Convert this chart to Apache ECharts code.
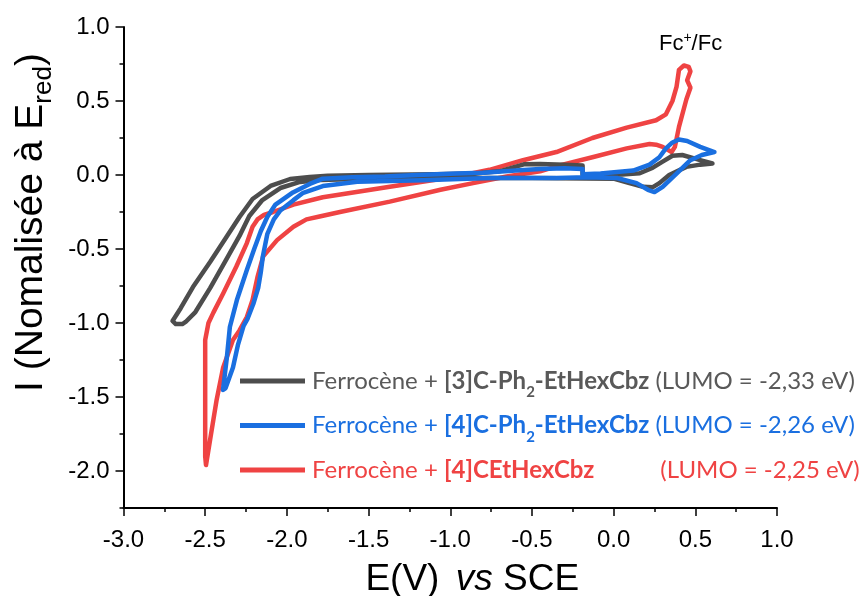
<!DOCTYPE html>
<html><head><meta charset="utf-8">
<script src="https://cdn.jsdelivr.net/npm/echarts@6/dist/echarts.min.js"></script>
<style>html,body{margin:0;padding:0;background:#fff}#c{width:861px;height:596px}</style>
</head><body><div id="c"></div>
<script>
// Tick values
const yLabelValues = [-2.0, -1.5, -1.0, -0.5, 0.0, 0.5, 1.0];

// Ferrocène + [3]C-Ph2-EtHexCbz (gray)
const grayE = [-0.19,-0.30,-0.45,-0.55,-0.62,-0.70,-0.85,-1.10,-1.50,-1.75,-1.86,-1.98,-2.10,-2.21,-2.29,-2.37,-2.47,-2.575,-2.65,-2.70,-2.68,-2.64,-2.62,-2.56,-2.47,-2.38,-2.29,-2.23,-2.15,-2.04,-1.92,-1.80,-1.50,-1.00,-0.50,0.00,0.08,0.18,0.24,0.28,0.34,0.445,0.53,0.605,0.53,0.42,0.36,0.30,0.24,0.16,0.05,-0.10,-0.19,-0.19];
const grayI = [0.065,0.07,0.075,0.072,0.05,0.025,0.01,0.005,0.0,-0.005,-0.014,-0.027,-0.074,-0.162,-0.284,-0.419,-0.588,-0.757,-0.90,-0.986,-1.007,-1.007,-0.993,-0.926,-0.764,-0.588,-0.412,-0.277,-0.169,-0.088,-0.047,-0.034,-0.025,-0.02,-0.02,-0.025,-0.05,-0.08,-0.082,-0.055,0.0,0.055,0.07,0.078,0.10,0.135,0.13,0.09,0.05,0.012,0.003,0.0,0.0,0.065];

// Ferrocène + [4]C-Ph2-EtHexCbz (blue)
const blueE = [-0.19,-0.30,-0.45,-0.60,-0.80,-0.96,-1.20,-1.40,-1.60,-1.78,-1.86,-1.963,-2.07,-2.12,-2.16,-2.20,-2.245,-2.306,-2.349,-2.367,-2.391,-2.375,-2.33,-2.30,-2.265,-2.24,-2.205,-2.175,-2.16,-2.147,-2.12,-2.08,-2.04,-1.96,-1.90,-1.78,-1.57,-1.17,-0.76,-0.35,-0.165,0.02,0.14,0.21,0.25,0.30,0.385,0.47,0.54,0.617,0.53,0.45,0.40,0.36,0.32,0.28,0.22,0.12,-0.08,-0.19,-0.19];
const blueI = [0.04,0.045,0.04,0.03,0.015,0.01,0.0,-0.01,-0.015,-0.025,-0.06,-0.118,-0.20,-0.284,-0.38,-0.50,-0.642,-0.845,-1.027,-1.23,-1.453,-1.44,-1.30,-1.15,-1.02,-0.97,-0.87,-0.76,-0.66,-0.55,-0.40,-0.30,-0.24,-0.17,-0.12,-0.075,-0.045,-0.035,-0.02,-0.02,-0.015,-0.02,-0.055,-0.10,-0.115,-0.08,0.01,0.10,0.135,0.155,0.19,0.23,0.24,0.22,0.18,0.12,0.07,0.03,0.01,0.005,0.04];

// Ferrocène + [4]CEtHexCbz (red)
const redE = [0.47,0.445,0.40,0.375,0.355,0.30,0.26,0.22,0.08,-0.13,-0.33,-0.45,-0.655,-0.86,-1.06,-1.37,-1.675,-1.80,-1.88,-1.96,-2.06,-2.145,-2.18,-2.21,-2.245,-2.29,-2.33,-2.39,-2.43,-2.47,-2.495,-2.50,-2.50,-2.50,-2.48,-2.45,-2.39,-2.31,-2.245,-2.21,-2.18,-2.14,-2.085,-1.96,-1.78,-1.37,-0.96,-0.76,-0.555,-0.35,-0.13,0.08,0.26,0.32,0.36,0.385,0.40,0.43,0.46,0.47,0.45,0.47];
const redI = [0.59,0.51,0.325,0.19,0.155,0.19,0.205,0.21,0.18,0.12,0.065,0.025,-0.01,-0.055,-0.10,-0.18,-0.25,-0.28,-0.30,-0.35,-0.44,-0.55,-0.69,-0.845,-0.96,-1.05,-1.115,-1.30,-1.52,-1.79,-1.96,-1.90,-1.40,-1.115,-1.0,-0.93,-0.80,-0.62,-0.46,-0.35,-0.30,-0.27,-0.25,-0.20,-0.15,-0.08,-0.01,0.035,0.10,0.155,0.25,0.32,0.37,0.41,0.50,0.595,0.71,0.74,0.73,0.70,0.64,0.59];

const nameG = 'Ferrocène + [3]C-Ph2-EtHexCbz';
const nameB = 'Ferrocène + [4]C-Ph2-EtHexCbz';
const nameR = 'Ferrocène + [4]CEtHexCbz';

const GRAY = '#4d4d4d', BLUE = '#1a6fe0', RED = '#ef4343';
const zip = (a, b) => a.map((v, i) => [v, b[i]]);

const legendText = {};
legendText[nameG] = '{g|Ferrocène + }{gb|[3]C-Ph}{gs|2}{gb|-EtHexCbz}{g| (LUMO = -2,33 eV)}';
legendText[nameB] = '{b|Ferrocène + }{bb|[4]C-Ph}{bs|2}{bb|-EtHexCbz}{b| (LUMO = -2,26 eV)}';
legendText[nameR] = '{r|Ferrocène + }{rb|[4]CEtHexCbz}{sp| }{r|(LUMO = -2,25 eV)}';

const LF = 'Lato';
function tok(color, bold) { return {color, fontFamily: LF, fontSize: 24, fontWeight: bold ? 'bold' : 'normal', lineHeight: 36}; }
function sub(color) { return {color, fontFamily: LF, fontSize: 15, fontWeight: 'bold', padding: [23, 0, 0, 0]}; }

const chart = echarts.init(document.getElementById('c'), null, {renderer: 'canvas'});
const axisLine = {show: true, onZero: false, lineStyle: {color: '#000', width: 2}};
const AF = 'Liberation Sans';

chart.setOption({
  animation: false,
  grid: {left: 123.5, right: 84, top: 27, bottom: 88, containLabel: false, outerBoundsMode: 'none'},
  xAxis: {
    type: 'value', min: -3, max: 1, interval: 0.5,
    axisLine,
    axisTick: {show: true, inside: false, length: 8, lineStyle: {color: '#000', width: 1.5}},
    minorTick: {show: true, splitNumber: 2, length: 4, lineStyle: {color: '#000', width: 1.5}},
    splitLine: {show: false},
    axisLabel: {margin: 20, fontSize: 24, fontFamily: AF, color: '#000', formatter: v => v.toFixed(1)},
    name: '{a|E(V) }{i|vs}{a| SCE}', nameLocation: 'middle', nameGap: 53,
    nameTextStyle: {padding: [0, 0, 0, 44], rich: {
      a: {fontSize: 37, fontFamily: AF, color: '#000'},
      i: {fontSize: 37, fontFamily: AF, color: '#000', fontStyle: 'italic', padding: [0, 0, 0, 6]}
    }}
  },
  yAxis: [{
    type: 'value', min: -2.25, max: 1, interval: 0.25,
    axisLine,
    axisTick: {show: true, inside: false, length: 4, lineStyle: {color: '#000', width: 1.5}},
    splitLine: {show: false},
    axisLabel: {margin: 14, fontSize: 24, fontFamily: AF, color: '#000', customValues: yLabelValues, formatter: v => v.toFixed(1)},
    name: '{a|I (Nomalisée à E}{s|red}{a|)}', nameLocation: 'middle', nameGap: 58,
    nameTextStyle: {padding: [0, 0, 0, 90], rich: {
      a: {fontSize: 39, fontFamily: AF, color: '#000'},
      s: {fontSize: 26, fontFamily: AF, color: '#000', padding: [26, 0, 0, 0]}
    }}
  }, {
    type: 'value', min: -2.25, max: 1, interval: 0.25, position: 'left', offset: 0,
    axisLine: {show: false, onZero: false},
    axisTick: {show: true, inside: false, length: 8, customValues: yLabelValues, lineStyle: {color: '#000', width: 1.5}},
    axisLabel: {show: false},
    splitLine: {show: false}
  }],
  legend: {
    orient: 'vertical', left: 235, top: 364, itemWidth: 65, itemHeight: 5, itemGap: 13.5, icon: 'rect',
    data: [nameG, nameB, nameR],
    formatter: n => legendText[n],
    selectedMode: false,
    textStyle: {padding: [0, 0, 0, 2], rich: {
      g: tok('#595959', false), gb: tok('#595959', true), gs: sub('#595959'),
      b: tok(BLUE, false), bb: tok(BLUE, true), bs: sub(BLUE),
      r: tok(RED, false), rb: tok(RED, true), sp: {fontSize: 24, fontFamily: LF, lineHeight: 36, width: 66}
    }}
  },
  graphic: [{
    type: 'text', left: 659, top: 31,
    style: {text: '{a|Fc}{s|+}{a|/Fc}', rich: {
      a: {fontSize: 22, fontFamily: AF, fill: '#000', color: '#000'},
      s: {fontSize: 14, fontFamily: AF, fill: '#000', color: '#000', padding: [0, 0, 12, 0]}
    }}
  }],
  series: [
    {name: nameR, type: 'line', data: zip(redE, redI), color: RED, showSymbol: false, symbol: 'none',
     lineStyle: {width: 4.5, color: RED, join: 'round', cap: 'round'}, emphasis: {disabled: true}},
    {name: nameG, type: 'line', data: zip(grayE, grayI), color: GRAY, showSymbol: false, symbol: 'none',
     lineStyle: {width: 4.5, color: GRAY, join: 'round', cap: 'round'}, emphasis: {disabled: true}},
    {name: nameB, type: 'line', data: zip(blueE, blueI), color: BLUE, showSymbol: false, symbol: 'none',
     lineStyle: {width: 4.5, color: BLUE, join: 'round', cap: 'round'}, emphasis: {disabled: true}}
  ]
});
</script></body></html>
